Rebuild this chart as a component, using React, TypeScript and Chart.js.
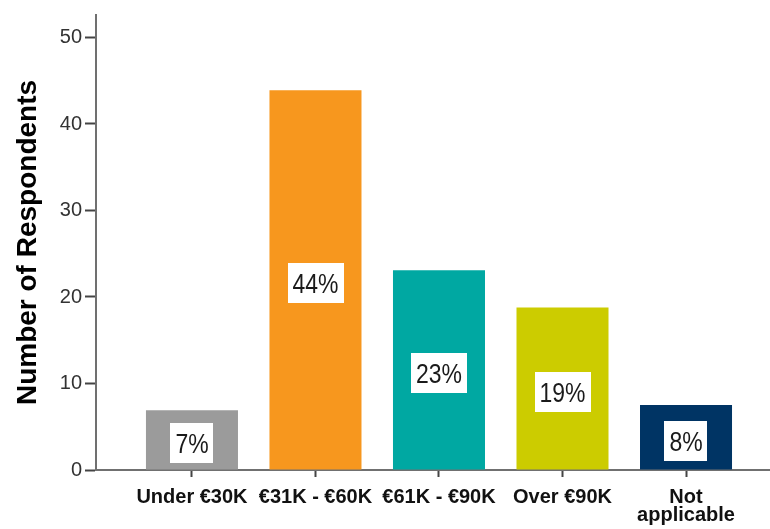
import { useEffect, useRef } from 'react';
import { Chart, registerables } from 'chart.js';

Chart.register(...registerables);

// ---- data ----
const categories: (string | string[])[] = ['Under €30K', '€31K - €60K', '€61K - €90K', 'Over €90K', ['Not', 'applicable']];
const respondents = [6.9, 43.9, 23.1, 18.8, 7.5];
const percentLabels = ['7%', '44%', '23%', '19%', '8%'];
const barColors = ['#9b9b9b', '#f7971e', '#00a8a2', '#cccc00', '#003464'];
const yTicks = [0, 10, 20, 30, 40, 50];
const yAxisTitle = 'Number of Respondents';

const FONT = '"Liberation Sans", Arial, Helvetica, sans-serif';
const NARROW_SCALE = 0.82;

const percentBoxes = {
  id: 'percentBoxes',
  afterDatasetsDraw(chart: any) {
    const ctx = chart.ctx as CanvasRenderingContext2D;
    const meta = chart.getDatasetMeta(0);
    ctx.save();
    ctx.font = '28px ' + FONT;
    meta.data.forEach((bar: any, i: number) => {
      const { x, y, base } = bar.getProps(['x', 'y', 'base'], true);
      const text = percentLabels[i];
      const tw = ctx.measureText(text).width * NARROW_SCALE;
      const w = tw + 10;
      const h = 40;
      const cy = (y + base) / 2 + 3.5;
      ctx.fillStyle = '#ffffff';
      ctx.fillRect(Math.round(x - w / 2), Math.round(cy - h / 2), Math.round(w), h);
      ctx.save();
      ctx.translate(x, cy + 10);
      ctx.scale(NARROW_SCALE, 1);
      ctx.fillStyle = '#1a1a1a';
      ctx.textAlign = 'center';
      ctx.textBaseline = 'alphabetic';
      ctx.fillText(text, 0, 0);
      ctx.restore();
    });
    ctx.restore();
  },
};

export default function App() {
  const ref = useRef<HTMLCanvasElement | null>(null);

  useEffect(() => {
    if (!ref.current) return;
    const chart = new Chart(ref.current, {
      type: 'bar',
      data: {
        datasets: [
          {
            data: respondents.map((v, i) => ({ x: i, y: v })),
            backgroundColor: barColors,
            borderWidth: 0,
            categoryPercentage: 1,
            barPercentage: 0.745,
          },
        ],
      },
      options: {
        responsive: false,
        animation: false,
        devicePixelRatio: 1,
        layout: { padding: { top: 12, left: 0, right: 0, bottom: 0 } },
        plugins: {
          legend: { display: false },
          tooltip: { enabled: false },
        },
        scales: {
          x: {
            type: 'linear',
            offset: false,
            min: -0.777,
            max: 4.68,
            afterBuildTicks: (scale: any) => {
              scale.ticks = categories.map((_, i) => ({ value: i }));
            },
            afterFit: (scale: any) => {
              scale.height = 59;
            },
            grid: {
              offset: false,
              drawOnChartArea: false,
              drawTicks: true,
              tickLength: 7,
              tickWidth: 2,
              tickColor: '#444444',
            },
            border: { display: true, color: '#707070', width: 2 },
            ticks: {
              autoSkip: false,
              maxRotation: 0,
              padding: 11,
              color: '#111111',
              font: { family: FONT, size: 20, weight: 'bold', lineHeight: 0.92 },
              callback: (value: any) => categories[value as number] as any,
            },
          },
          y: {
            type: 'linear',
            min: 0,
            max: 52.6,
            afterBuildTicks: (scale: any) => {
              scale.ticks = yTicks.map((v) => ({ value: v }));
            },
            afterFit: (scale: any) => {
              scale.width = 96;
            },
            grid: {
              drawOnChartArea: false,
              drawTicks: true,
              tickLength: 11,
              tickWidth: 2,
              tickColor: '#444444',
            },
            border: { display: true, color: '#707070', width: 2 },
            ticks: {
              padding: 3,
              color: '#333333',
              font: { family: FONT, size: 20 },
            },
            title: {
              display: true,
              text: yAxisTitle,
              color: '#000000',
              padding: { top: 11, bottom: 0 },
              font: { family: FONT, size: 28, weight: 'bold', lineHeight: 1.2 },
            },
          },
        },
      },
      plugins: [percentBoxes],
    } as any);
    return () => chart.destroy();
  }, []);

  return (
    <div style={{ position: 'absolute', left: 0, top: 0, width: 770, height: 529, background: '#ffffff' }}>
      <canvas ref={ref} width={770} height={529} style={{ display: 'block' }} />
    </div>
  );
}
